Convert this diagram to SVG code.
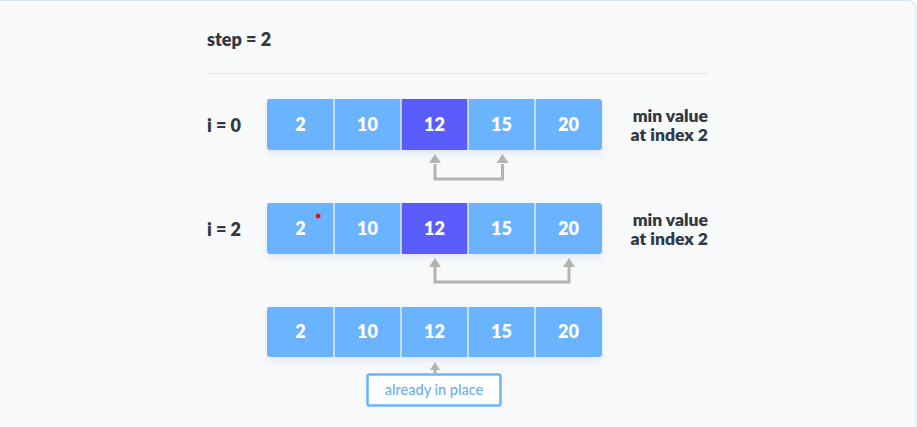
<svg xmlns="http://www.w3.org/2000/svg" width="917" height="427" viewBox="0 0 917 427">
<style>
.lbl{font-family:Lato,"Open Sans",sans-serif;font-weight:800;font-size:18px;fill:#333740}
.num{font-family:Lato,"Open Sans",sans-serif;font-weight:800;font-size:18px;fill:#ffffff;text-anchor:middle}
.side{font-family:Lato,"Open Sans",sans-serif;font-weight:800;font-size:17.5px;fill:#333740;text-anchor:end}
.cell{fill:#6ab4ff}
.sel{fill:#5a5cfb}
.div{stroke:#ffffff;stroke-width:1.2}
.conn{fill:none;stroke:#b3b3b3;stroke-width:3}
.note{font-family:Lato,"Open Sans",sans-serif;font-weight:500;font-size:14.5px;fill:#6aaef5;text-anchor:middle}
</style>
<defs>
<filter id="sh" x="-5%" y="-20%" width="110%" height="160%">
<feDropShadow dx="0" dy="4" stdDeviation="3" flood-color="#6a8fcf" flood-opacity="0.15"/>
</filter>
</defs>
<rect x="-10" y="0.5" width="926" height="440" rx="8" fill="#f8f9fb" stroke="#d6e0ec" stroke-width="1"/>
<text class="lbl" x="207" y="46">step = 2</text>
<line x1="207" y1="73.5" x2="708" y2="73.5" stroke="#e3e6ea" stroke-width="1"/>

<g id="row0">
<text class="lbl" x="207" y="132">i = 0</text>
<rect x="267" y="99" width="335" height="51" rx="3" class="cell" filter="url(#sh)"/>
<rect x="401" y="99" width="67" height="51" class="sel"/>
<line class="div" x1="334" y1="99" x2="334" y2="150"/>
<line class="div" x1="401" y1="99" x2="401" y2="150"/>
<line class="div" x1="468" y1="99" x2="468" y2="150"/>
<line class="div" x1="535" y1="99" x2="535" y2="150"/>
<text class="num" x="300.5" y="131">2</text>
<text class="num" x="367.5" y="131">10</text>
<text class="num" x="434.5" y="131">12</text>
<text class="num" x="501.5" y="131">15</text>
<text class="num" x="568.5" y="131">20</text>
<text class="side" x="708" y="121.5">min value</text>
<text class="side" x="708" y="140.5">at index 2</text>
</g>

<g id="row1">
<text class="lbl" x="207" y="236">i = 2</text>
<rect x="267" y="203" width="335" height="51" rx="3" class="cell" filter="url(#sh)"/>
<rect x="401" y="203" width="67" height="51" class="sel"/>
<line class="div" x1="334" y1="203" x2="334" y2="254"/>
<line class="div" x1="401" y1="203" x2="401" y2="254"/>
<line class="div" x1="468" y1="203" x2="468" y2="254"/>
<line class="div" x1="535" y1="203" x2="535" y2="254"/>
<text class="num" x="300.5" y="235">2</text>
<circle cx="318" cy="216" r="2.5" fill="#e8141c"/>
<text class="num" x="367.5" y="235">10</text>
<text class="num" x="434.5" y="235">12</text>
<text class="num" x="501.5" y="235">15</text>
<text class="num" x="568.5" y="235">20</text>
<text class="side" x="708" y="225.5">min value</text>
<text class="side" x="708" y="244.5">at index 2</text>
</g>

<g id="row2">
<rect x="267" y="307" width="335" height="50" rx="3" class="cell" filter="url(#sh)"/>
<line class="div" x1="334" y1="307" x2="334" y2="357"/>
<line class="div" x1="401" y1="307" x2="401" y2="357"/>
<line class="div" x1="468" y1="307" x2="468" y2="357"/>
<line class="div" x1="535" y1="307" x2="535" y2="357"/>
<text class="num" x="300.5" y="338">2</text>
<text class="num" x="367.5" y="338">10</text>
<text class="num" x="434.5" y="338">12</text>
<text class="num" x="501.5" y="338">15</text>
<text class="num" x="568.5" y="338">20</text>
</g>

<g id="note">
<rect x="367.5" y="374.5" width="133" height="31" rx="2" fill="#ffffff" stroke="#6ab4ff" stroke-width="2.5"/>
<text class="note" x="434" y="395">already in place</text>
</g>

<g id="connectors">
<path class="conn" d="M435,164 V179 H502.5 V164"/>
<path d="M429,163 L435,154 L441,163 z" fill="#b3b3b3"/>
<path d="M496.5,163 L502.5,154 L508.5,163 z" fill="#b3b3b3"/>
<path class="conn" d="M435,267 V282 H569 V267"/>
<path d="M429,267 L435,258 L441,267 z" fill="#b3b3b3"/>
<path d="M563,267 L569,258 L575,267 z" fill="#b3b3b3"/>
<line class="conn" x1="435" y1="369" x2="435" y2="374"/>
<path d="M430,370 L435,362 L440,370 z" fill="#b3b3b3"/>
</g>
</svg>
